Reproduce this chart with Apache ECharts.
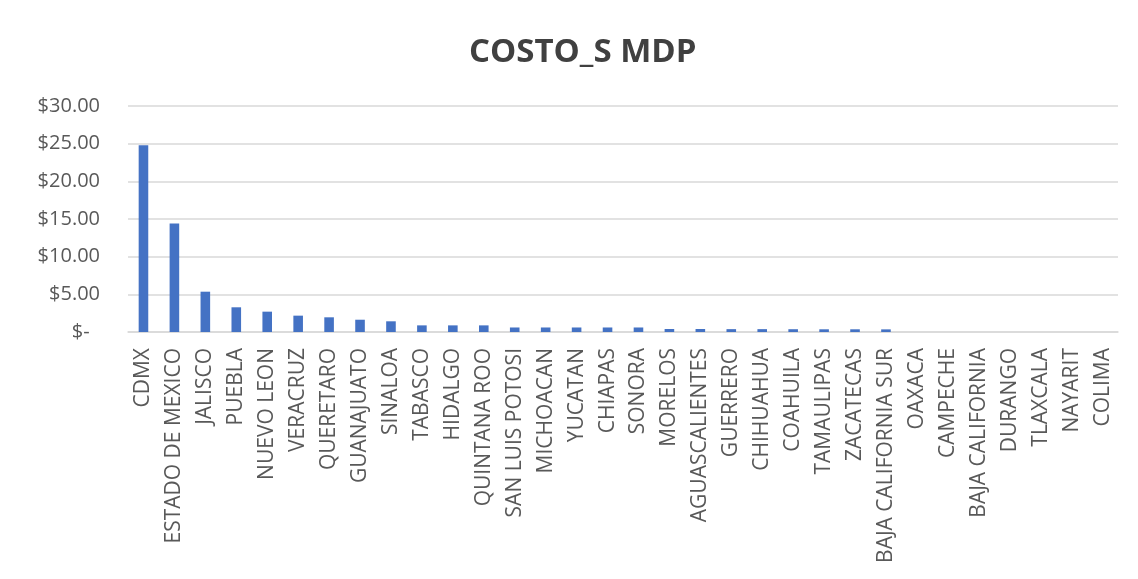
<!DOCTYPE html>
<html>
<head>
<meta charset="utf-8">
<script src="https://cdn.jsdelivr.net/npm/echarts@6/dist/echarts.min.js"></script>
<style>
  html, body { margin: 0; padding: 0; background: #ffffff; }
  #chart { width: 1138px; height: 579px; }
</style>
</head>
<body>
<div id="chart"></div>
<script>
// Costo por estado, en millones de pesos
const estados = [
  'CDMX', 'ESTADO DE MEXICO', 'JALISCO', 'PUEBLA', 'NUEVO LEON', 'VERACRUZ',
  'QUERETARO', 'GUANAJUATO', 'SINALOA', 'TABASCO', 'HIDALGO', 'QUINTANA ROO',
  'SAN LUIS POTOSI', 'MICHOACAN', 'YUCATAN', 'CHIAPAS', 'SONORA', 'MORELOS',
  'AGUASCALIENTES', 'GUERRERO', 'CHIHUAHUA', 'COAHUILA', 'TAMAULIPAS',
  'ZACATECAS', 'BAJA CALIFORNIA SUR', 'OAXACA', 'CAMPECHE', 'BAJA CALIFORNIA',
  'DURANGO', 'TLAXCALA', 'NAYARIT', 'COLIMA'
];
const costoMDP = [
  24.8, 14.4, 5.35, 3.28, 2.7, 2.17,
  1.95, 1.63, 1.42, 0.88, 0.88, 0.88,
  0.6, 0.6, 0.6, 0.6, 0.6, 0.4,
  0.4, 0.38, 0.38, 0.37, 0.36,
  0.36, 0.35, 0, 0, 0,
  0, 0, 0, 0
];
const yTicks = [0, 5, 10, 15, 20, 25, 30];

const textColor = '#595959';
const fontFamily = '"Open Sans", "Noto Sans", sans-serif';

const chart = echarts.init(document.getElementById('chart'), null, { renderer: 'canvas' });
chart.setOption({
  backgroundColor: '#ffffff',
  animation: false,
  title: {
    text: 'COSTO_S MDP',
    left: 464,
    top: 31,
    textStyle: { fontFamily, fontSize: 33, fontWeight: 'bold', color: '#404040' }
  },
  grid: { left: 128, right: 20, top: 106, bottom: 247, containLabel: false },
  xAxis: {
    type: 'category',
    data: estados,
    axisLine: { show: true, lineStyle: { color: '#d9d9d9', width: 1.5 } },
    axisTick: { show: false },
    axisLabel: {
      interval: 0,
      rotate: 90,
      margin: 16,
      color: textColor,
      fontFamily,
      fontSize: 21
    }
  },
  yAxis: {
    type: 'value',
    min: yTicks[0],
    max: yTicks[yTicks.length - 1],
    interval: yTicks[1] - yTicks[0],
    axisLine: { show: false },
    axisTick: { show: false },
    splitLine: { lineStyle: { color: '#d9d9d9', width: 1.5 } },
    axisLabel: {
      margin: 28,
      color: textColor,
      fontFamily,
      fontSize: 20,
      formatter: v => (v === 0 ? '$-  ' : '$' + v.toFixed(2))
    }
  },
  series: [{
    type: 'bar',
    data: costoMDP,
    barWidth: '31%',
    itemStyle: { color: '#4472C4' }
  }]
});
</script>
</body>
</html>
